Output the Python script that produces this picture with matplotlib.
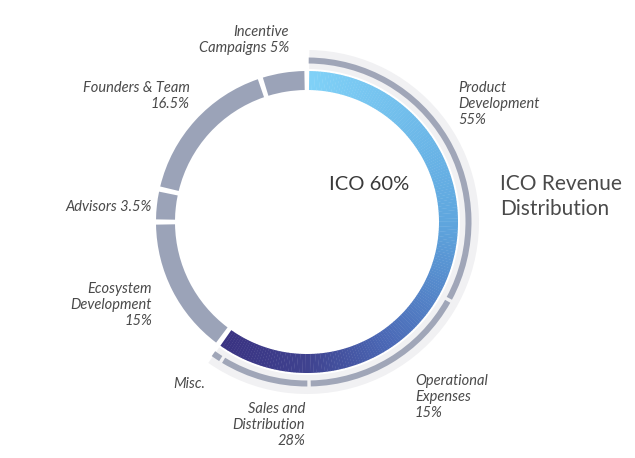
import numpy as np
import matplotlib
matplotlib.use("Agg")
import matplotlib.pyplot as plt
from matplotlib.patches import Wedge
from matplotlib.colors import LinearSegmentedColormap

# ---- data ----
inner_labels = ["ICO", "Ecosystem Development", "Advisors", "Founders & Team", "Incentive Campaigns"]
inner_values = [60, 15, 3.5, 16.5, 5]          # percent of whole ring (clockwise from top)
outer_labels = ["Product Development", "Arc 2", "Arc 3", "Misc."]
outer_values = [55, 28, 15, 2]                  # share of the ICO part (clockwise from top)

text_labels = [
    ("Incentive\nCampaigns 5%", 289, 40, "right"),
    ("Founders & Team\n16.5%", 190, 96, "right"),
    ("Advisors 3.5%", 152, 207, "right"),
    ("Ecosystem\nDevelopment\n15%", 152, 305, "right"),
    ("Misc.", 205, 384, "right"),
    ("Sales and\nDistribution\n28%", 305, 425, "right"),
    ("Operational\nExpenses\n15%", 415, 397, "left"),
    ("Product\nDevelopment\n55%", 458, 104, "left"),
]

W, H = 635, 458
fig = plt.figure(figsize=(W / 100, H / 100), dpi=100)
ax = fig.add_axes([0, 0, 1, 1])
ax.set_xlim(0, W)
ax.set_ylim(0, H)
ax.set_aspect("equal")
ax.axis("off")

cx, cy = 307, H - 222
R_in_out, R_in_w = 151, 19
grey = "#9ba3b8"

grad = LinearSegmentedColormap.from_list(
    "ico", [(0, "#80d1f7"), (0.42, "#5fa6de"), (0.68, "#4b69b6"), (0.84, "#3f428f"), (1.0, "#3a3382")])

# inner ring
start = 90.0
half_gap = 1.0
ico_span = None
for lab, v in zip(inner_labels, inner_values):
    span = v / 100 * 360
    a0, a1 = start, start - span
    if lab == "ICO":
        ico_span = span
        n = 200
        edges = np.linspace(a0 - half_gap, a1 + half_gap, n + 1)
        for i in range(n):
            t = i / (n - 1)
            ax.add_patch(Wedge((cx, cy), R_in_out, edges[i + 1], edges[i] + 0.15,
                               width=R_in_w, facecolor=grad(t), edgecolor="none", lw=0))
    else:
        ax.add_patch(Wedge((cx, cy), R_in_out, a1 + half_gap, a0 - half_gap,
                           width=R_in_w, facecolor=grey, edgecolor="none"))
    start = a1

# light background band behind outer arcs
ax.add_patch(Wedge((cx, cy), 172, 90 - ico_span + 1.0, 90 - 0.8, width=19,
                   facecolor="#f1f1f3", edgecolor="none"))

# outer thin arcs
start = 90.0
og = 0.6
for lab, v in zip(outer_labels, outer_values):
    span = v / 100 * ico_span
    a0, a1 = start, start - span
    ax.add_patch(Wedge((cx, cy), 164.5, a1 + og, a0 - og, width=6,
                       facecolor="#a0a6b8", edgecolor="none"))
    start = a1

fam = ["Lato", "DejaVu Sans"]
for s, x, y, ha in text_labels:
    ax.text(x, H - y, s, ha=ha, va="center", multialignment=ha, fontsize=10.5,
            family=fam, fontweight="normal", style="italic", color="#4a4a4a",
            linespacing=1.2)

ax.text(369, H - 185, "ICO 60%", ha="center", va="center", fontsize=14.5,
        family=fam, fontweight="normal", color="#3a3a3a")
ax.text(500, H - 196.5, "ICO Revenue\nDistribution", ha="left", va="center",
        fontsize=15, family=fam, fontweight="normal", color="#4a4a4a", linespacing=1.3)

fig.savefig("out.png", dpi=100)
